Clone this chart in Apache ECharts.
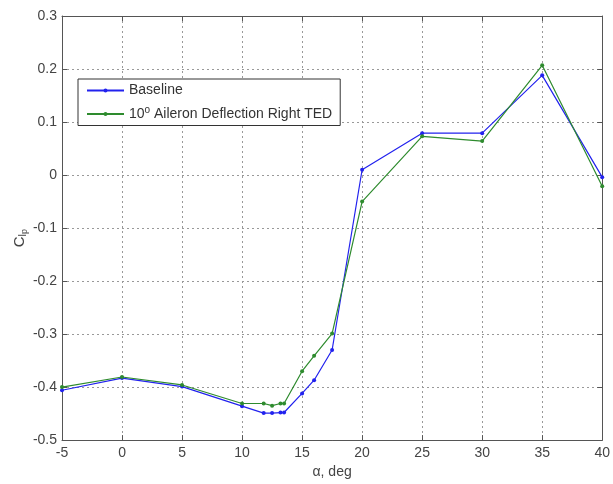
<!DOCTYPE html>
<html>
<head>
<meta charset="utf-8">
<script src="https://cdn.jsdelivr.net/npm/echarts@6/dist/echarts.min.js"></script>
<style>
html,body{margin:0;padding:0;background:#fff;}
#chart{width:613px;height:484px;}
</style>
</head>
<body>
<div id="chart"></div>
<script>
const alpha = [-5, 0, 5, 10, 11.8, 12.5, 13.2, 13.5, 15, 16, 17.5, 20, 25, 30, 35, 40];
const baseline = [-0.406, -0.383, -0.399, -0.436, -0.449, -0.449, -0.448, -0.448, -0.412, -0.387, -0.330, 0.010, 0.079, 0.079, 0.188, -0.004];
const aileron = [-0.400, -0.381, -0.396, -0.431, -0.431, -0.435, -0.431, -0.431, -0.370, -0.341, -0.299, -0.050, 0.073, 0.064, 0.207, -0.021];
const seriesNames = ['Baseline', '10° Aileron Deflection Right TED'];
const xTicks = {min: -5, max: 40, interval: 5};
const yTicks = {min: -0.5, max: 0.3, interval: 0.1};

const chart = echarts.init(document.getElementById('chart'), null, {renderer: 'canvas'});
const frame = '#555';
const font = 'Liberation Sans, Arial, sans-serif';
const pair = (xs, ys) => xs.map((x, i) => [x, ys[i]]);

chart.setOption({
  animation: false,
  backgroundColor: '#fff',
  grid: {left: 62, right: 6, top: 16, bottom: 37},
  legend: {
    orient: 'vertical',
    left: 78, top: 79,
    padding: [3, 8, 3, 8],
    itemGap: 6,
    itemWidth: 37, itemHeight: 5,
    backgroundColor: '#fff',
    borderColor: '#333', borderWidth: 1,
    data: seriesNames,
    formatter: function (n) { return n === seriesNames[0] ? n : '10{sup|o} Aileron Deflection Right TED'; },
    textStyle: {
      fontFamily: font, fontSize: 14, color: '#333', lineHeight: 17,
      rich: {sup: {fontFamily: font, fontSize: 10, color: '#333', padding: [0, 0, 8, 0]}}
    }
  },
  graphic: [{
    type: 'text', left: 12, top: 229, rotation: Math.PI / 2, originX: 0, originY: 0,
    style: {
      text: '{c|C}{s|l}{ss|p}', fill: '#444',
      rich: {
        c: {fontFamily: font, fontSize: 15, fill: '#444'},
        s: {fontFamily: font, fontSize: 11, fill: '#444', padding: [6, 0, 0, 0]},
        ss: {fontFamily: font, fontSize: 9, fill: '#444', padding: [10, 0, 0, 0]}
      }
    }
  }],
  xAxis: [{
    type: 'value', min: xTicks.min, max: xTicks.max, interval: xTicks.interval,
    name: 'α, deg', nameLocation: 'middle', nameGap: 22,
    nameTextStyle: {fontFamily: font, fontSize: 14, color: '#444'},
    axisLine: {show: true, onZero: false, lineStyle: {color: frame, width: 1}},
    axisTick: {show: true, inside: true, length: 5, lineStyle: {color: frame}},
    axisLabel: {fontFamily: font, fontSize: 14, color: '#444', margin: 6},
    splitLine: {show: true, lineStyle: {type: [2, 3], color: '#999', width: 1}}
  }, {
    type: 'value', position: 'top', min: xTicks.min, max: xTicks.max, interval: xTicks.interval,
    axisLine: {show: true, onZero: false, lineStyle: {color: frame, width: 1}},
    axisTick: {show: true, inside: true, length: 5, lineStyle: {color: frame}},
    axisLabel: {show: false}, splitLine: {show: false}
  }],
  yAxis: [{
    type: 'value', min: yTicks.min, max: yTicks.max, interval: yTicks.interval,
    axisLine: {show: true, onZero: false, lineStyle: {color: frame, width: 1}},
    axisTick: {show: true, inside: true, length: 5, lineStyle: {color: frame}},
    axisLabel: {fontFamily: font, fontSize: 14, color: '#444', margin: 5},
    splitLine: {show: true, lineStyle: {type: [2, 3], color: '#999', width: 1}}
  }, {
    type: 'value', position: 'right', min: yTicks.min, max: yTicks.max, interval: yTicks.interval,
    axisLine: {show: true, onZero: false, lineStyle: {color: frame, width: 1}},
    axisTick: {show: true, inside: true, length: 5, lineStyle: {color: frame}},
    axisLabel: {show: false}, splitLine: {show: false}
  }],
  series: [{
    name: seriesNames[0], type: 'line', xAxisIndex: 0, yAxisIndex: 0,
    data: pair(alpha, baseline),
    symbol: 'circle', symbolSize: 4, showSymbol: true,
    lineStyle: {color: '#2222ee', width: 1.2},
    itemStyle: {color: '#2222ee'}
  }, {
    name: seriesNames[1], type: 'line', xAxisIndex: 0, yAxisIndex: 0,
    data: pair(alpha, aileron),
    symbol: 'circle', symbolSize: 4, showSymbol: true,
    lineStyle: {color: '#2e8b2e', width: 1.2},
    itemStyle: {color: '#2e8b2e'}
  }]
});
</script>
</body>
</html>
